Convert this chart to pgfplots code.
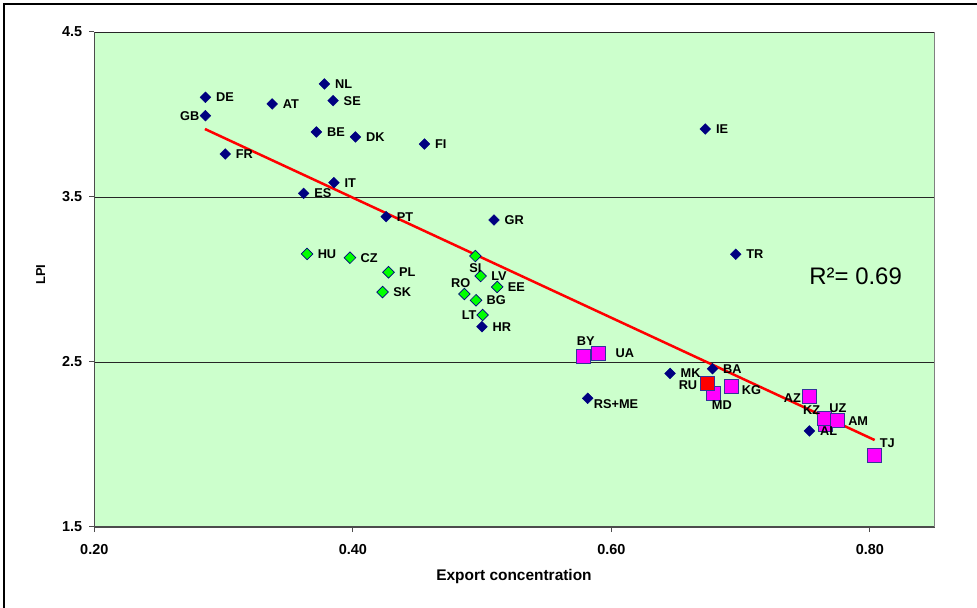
\documentclass[border=0pt]{standalone}
\usepackage{pgfplots}
\pgfplotsset{compat=1.18}
\usepackage{pgfplotstable}
\usepackage{fontspec}
\setmainfont{Liberation Sans}
\definecolor{bgc}{RGB}{204,255,204}
\definecolor{navyc}{RGB}{0,0,128}
\definecolor{limec}{RGB}{0,255,0}
\definecolor{magc}{RGB}{255,0,255}
\definecolor{edgec}{RGB}{51,51,153}

\pgfplotstableread{
x y
0.286 4.104
0.286 3.993
0.3376 4.064
0.378 4.185
0.3847 4.084
0.3718 3.894
0.402 3.864
0.4554 3.821
0.3013 3.761
0.3854 3.587
0.362 3.522
0.4258 3.381
0.5092 3.361
0.6727 3.912
0.6962 3.153
0.4999 2.714
0.6454 2.431
0.6782 2.459
0.5817 2.280
0.7532 2.082
}\navytab

\pgfplotstableread{
x y
0.3646 3.155
0.3978 3.132
0.4948 3.142
0.4276 3.044
0.4989 3.021
0.4230 2.924
0.5117 2.955
0.4863 2.912
0.4953 2.874
0.5004 2.785
}\greentab

\pgfplotstableread{
x y
0.5786 2.532
0.5900 2.553
0.6793 2.312
0.6931 2.353
0.7529 2.292
0.7655 2.120
0.7648 2.159
0.7750 2.144
0.8037 1.932
}\magtab

\pgfplotstableread{
x y
0.6743 2.373
}\redtab

\newcommand{\lbls}[2]{\addplot[only marks, mark=none, point meta=explicit symbolic, nodes near coords, every node near coord/.style={#1, inner sep=0pt, font=\bfseries\fontsize{12.8}{14}\selectfont, text=black}] table[x=x, y=y, meta=lab, row sep=\\] {#2};}

\begin{document}
\begin{tikzpicture}
\useasboundingbox (0,0) rectangle (977bp,608bp);
\draw[black, line width=1.5bp] (4bp,0) -- (4bp,604bp) -- (977bp,604bp);
\begin{axis}[
  at={(94.3bp,81bp)}, anchor=south west,
  scale only axis, width=840.2bp, height=495bp,
  xmin=0.2, xmax=0.85, ymin=1.5, ymax=4.5,
  xtick={0.2,0.4,0.6,0.8}, ytick={1.5,2.5,3.5,4.5},
  axis lines=left, axis line style={-, draw=black!70, line width=1.2bp},
  axis background/.style={fill=bgc},
  ymajorgrids, grid style={black!85, line width=0.8bp},
  tick align=outside, major tick length=5bp,
  tick style={black!70, line width=1bp},
  /pgf/number format/assume math mode=true,
  xticklabel={\pgfmathprintnumber[fixed,fixed zerofill,precision=2]{\tick}},
  yticklabel={\pgfmathprintnumber[fixed,fixed zerofill,precision=1]{\tick}},
  ticklabel style={font=\bfseries\fontsize{14.5}{16}\selectfont, inner sep=0pt},
  xticklabel style={anchor=center, yshift=-18bp},
  yticklabel style={anchor=east, xshift=-7bp},
  clip=false,
  extra description/.code={\draw[black!50, line width=1.5bp] (rel axis cs:1,0) -- (rel axis cs:1,1);},
]
\addplot[only marks, mark=square*, mark size=3.8bp, mark options={rotate=45, fill=navyc, draw=navyc}] table[x=x,y=y] {\navytab};
\addplot[only marks, mark=square*, mark size=4.1bp, mark options={rotate=45, fill=limec, draw=navyc, line width=0.7bp}] table[x=x,y=y] {\greentab};
\addplot[only marks, mark=square*, mark size=7bp, mark options={fill=magc, draw=edgec, line width=0.8bp}] table[x=x,y=y] {\magtab};
\addplot[only marks, mark=square*, mark size=7bp, mark options={fill=red, draw=edgec, line width=0.8bp}] table[x=x,y=y] {\redtab};
\addplot[red, line width=2.5bp, mark=none] coordinates {(0.2856,3.912) (0.8037,2.027)};
% data labels
\lbls{anchor=west, xshift=10.5bp}{x y lab\\ 0.286 4.104 DE\\ 0.3376 4.064 AT\\ 0.378 4.185 NL\\ 0.3847 4.084 SE\\ 0.3718 3.894 BE\\ 0.402 3.864 DK\\ 0.4554 3.821 FI\\ 0.3013 3.761 FR\\ 0.3854 3.587 IT\\ 0.362 3.522 ES\\ 0.4258 3.381 PT\\ 0.5092 3.361 GR\\ 0.6727 3.912 IE\\ 0.6962 3.153 TR\\ 0.4999 2.714 HR\\ 0.6454 2.431 MK\\ 0.6782 2.459 BA\\ 0.7532 2.082 AL\\ 0.3646 3.155 HU\\ 0.3978 3.132 CZ\\ 0.4276 3.044 PL\\ 0.4989 3.021 LV\\ 0.4230 2.924 SK\\ 0.5117 2.955 EE\\ 0.4953 2.874 BG\\ 0.7750 2.144 AM\\}
\lbls{anchor=east, xshift=-6bp}{x y lab\\ 0.286 3.993 GB\\ 0.5004 2.785 LT\\}
\lbls{anchor=west, xshift=6bp, yshift=-6bp}{x y lab\\ 0.5817 2.280 RS+ME\\}
\lbls{anchor=north, yshift=-7bp}{x y lab\\ 0.4948 3.142 SI\\}
\lbls{anchor=south east, xshift=6bp, yshift=6.5bp}{x y lab\\ 0.4863 2.912 RO\\}
\lbls{anchor=south, xshift=2bp, yshift=11bp}{x y lab\\ 0.5786 2.532 BY\\}
\lbls{anchor=west, xshift=17bp}{x y lab\\ 0.5900 2.553 UA\\}
\lbls{anchor=north, xshift=8bp, yshift=-8bp}{x y lab\\ 0.6793 2.312 MD\\}
\lbls{anchor=west, xshift=10bp, yshift=-4bp}{x y lab\\ 0.6931 2.353 KG\\}
\lbls{anchor=east, xshift=-8bp, yshift=-2bp}{x y lab\\ 0.7529 2.292 AZ\\}
\lbls{anchor=south west, xshift=4bp, yshift=11.5bp}{x y lab\\ 0.7655 2.120 UZ\\}
\lbls{anchor=east, xshift=-4bp, yshift=8bp}{x y lab\\ 0.7648 2.159 KZ\\}
\lbls{anchor=west, xshift=5bp, yshift=13bp}{x y lab\\ 0.8037 1.932 TJ\\}
\lbls{anchor=east, xshift=-10bp, yshift=-2.5bp}{x y lab\\ 0.6743 2.373 RU\\}
\node[font=\fontsize{24}{26}\selectfont, inner sep=0pt] at (axis cs:0.789,3.017) {R²= 0.69};
\end{axis}
\node[rotate=90, font=\bfseries\fontsize{13}{15}\selectfont, inner sep=0pt] at (40.7bp,333.5bp) {LPI};
\node[font=\bfseries\fontsize{15.5}{17}\selectfont, inner sep=0pt] at (514bp,31bp) {Export concentration};
\end{tikzpicture}
\end{document}
